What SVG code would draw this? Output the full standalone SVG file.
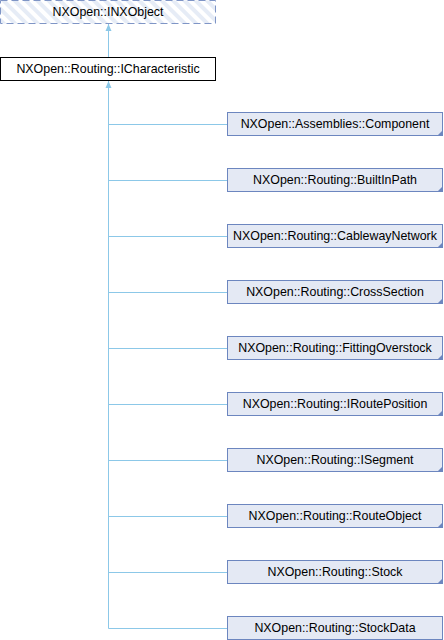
<svg xmlns="http://www.w3.org/2000/svg" width="444" height="640" viewBox="0 0 444 640">
<defs>
<pattern id="hatch" width="8" height="8" patternUnits="userSpaceOnUse" patternTransform="rotate(-45)">
<rect width="8" height="8" fill="#ffffff"/>
<rect width="4" height="8" fill="#e6ecf6"/>
</pattern>
</defs>
<style>
.edge{stroke:#8cc8e8;stroke-width:1;fill:none}
.ah{fill:#8cc8e8}
.node rect.b{fill:#e4e9f4;stroke:#6c86bf;stroke-width:1}
.node path.c{fill:#6c86bf}
text{font-family:"Liberation Sans",Arial,sans-serif;font-size:12.4px;fill:#000;text-anchor:middle}
</style>
<g id="connectors">
<path class="edge" d="M108.5,57 L108.5,24"/>
<path class="ah" d="M108.5,24 L111.5,31 L105.5,31 Z"/>
<path class="edge" d="M108.5,628.5 L108.5,81"/>
<path class="ah" d="M108.5,81 L111.5,88 L105.5,88 Z"/>
<path class="edge" d="M108.5,124.5 H228 M108.5,180.5 H228 M108.5,236.5 H228 M108.5,292.5 H228 M108.5,348.5 H228 M108.5,404.5 H228 M108.5,460.5 H228 M108.5,516.5 H228 M108.5,572.5 H228 M108.5,628.5 H228"/>
</g>
<g id="n_inxobject">
<rect x="0.5" y="0.5" width="215" height="23" fill="url(#hatch)" stroke="#7f95c6" stroke-dasharray="7,4"/>
<text x="108" y="16">NXOpen::INXObject</text>
</g>
<g id="n_icharacteristic">
<rect x="0.5" y="57.5" width="215" height="23" fill="#ffffff" stroke="#000000"/>
<text x="108" y="72.5">NXOpen::Routing::ICharacteristic</text>
</g>
<g class="node" id="n_component">
<rect class="b" x="227.5" y="112.5" width="215" height="23"/>
<path class="c" d="M443,130 L443,136 L437,136 Z"/>
<text x="335" y="128">NXOpen::Assemblies::Component</text>
</g>
<g class="node" id="n_builtinpath">
<rect class="b" x="227.5" y="168.5" width="215" height="23"/>
<path class="c" d="M443,186 L443,192 L437,192 Z"/>
<text x="335" y="184">NXOpen::Routing::BuiltInPath</text>
</g>
<g class="node" id="n_cableway">
<rect class="b" x="227.5" y="224.5" width="215" height="23"/>
<path class="c" d="M443,242 L443,248 L437,248 Z"/>
<text x="335" y="240">NXOpen::Routing::CablewayNetwork</text>
</g>
<g class="node" id="n_crosssection">
<rect class="b" x="227.5" y="280.5" width="215" height="23"/>
<path class="c" d="M443,298 L443,304 L437,304 Z"/>
<text x="335" y="296">NXOpen::Routing::CrossSection</text>
</g>
<g class="node" id="n_fitting">
<rect class="b" x="227.5" y="336.5" width="215" height="23"/>
<path class="c" d="M443,354 L443,360 L437,360 Z"/>
<text x="335" y="352">NXOpen::Routing::FittingOverstock</text>
</g>
<g class="node" id="n_irouteposition">
<rect class="b" x="227.5" y="392.5" width="215" height="23"/>
<path class="c" d="M443,410 L443,416 L437,416 Z"/>
<text x="335" y="408">NXOpen::Routing::IRoutePosition</text>
</g>
<g class="node" id="n_isegment">
<rect class="b" x="227.5" y="448.5" width="215" height="23"/>
<path class="c" d="M443,466 L443,472 L437,472 Z"/>
<text x="335" y="464">NXOpen::Routing::ISegment</text>
</g>
<g class="node" id="n_routeobject">
<rect class="b" x="227.5" y="504.5" width="215" height="23"/>
<path class="c" d="M443,522 L443,528 L437,528 Z"/>
<text x="335" y="520">NXOpen::Routing::RouteObject</text>
</g>
<g class="node" id="n_stock">
<rect class="b" x="227.5" y="560.5" width="215" height="23"/>
<path class="c" d="M443,578 L443,584 L437,584 Z"/>
<text x="335" y="576">NXOpen::Routing::Stock</text>
</g>
<g class="node" id="n_stockdata">
<rect class="b" x="227.5" y="616.5" width="215" height="23"/>
<text x="335" y="632">NXOpen::Routing::StockData</text>
</g>
</svg>
